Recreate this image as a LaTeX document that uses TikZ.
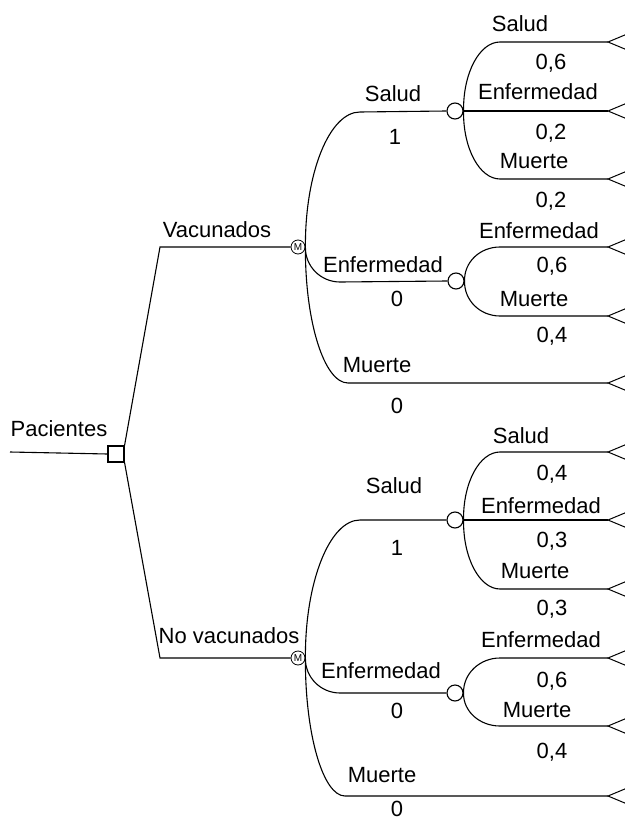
\documentclass[tikz,border=0pt]{standalone}
\usepackage{fontspec}
\setmainfont{Liberation Sans}
\begin{document}
\begin{tikzpicture}[x=1pt,y=-1pt, line width=1.1pt,
  lbl/.style={font=\fontsize{22}{24}\selectfont, inner sep=0pt, anchor=base},
  decision/.style={draw, rectangle, minimum size=16pt, inner sep=0pt},
  chance/.style={draw, circle, minimum size=16pt, inner sep=0pt},
  markov/.style={draw, circle, minimum size=14pt, inner sep=0pt, line width=0.8pt, font=\fontsize{10}{10}\selectfont},
  branch/.style={line width=1.1pt}]
\useasboundingbox (0,0) rectangle (624,821);

% nodes
\node[decision] (d) at (116,454) {};
\node[markov] (m1) at (298,247) {M};
\node[markov] (m2) at (298,658) {M};
\node[chance] (c1) at (455,111) {};
\node[chance] (c2) at (456,281) {};
\node[chance] (c3) at (455,520) {};
\node[chance] (c4) at (455,693) {};
\coordinate (in) at (10,452);
\coordinate (k1) at (160,247);
\coordinate (k2) at (160,658);

% terminals
\foreach \n/\yy in {t1/42,t2/111,t3/179,t4/247,t5/316,t6/383,t7/452,t8/520,t9/589,t10/658,t11/726,t12/796}{
  \coordinate (\n) at (608,\yy);
  \draw[line join=miter, line width=1pt] (\n) -- ++(18,-7.5) -- ++(0,15) -- cycle;
}

% root
\draw[branch] (in) -- (d.west);
\draw[branch] (d.north east) -- (k1) -- (m1.west);
\draw[branch] (d.south east) -- (k2) -- (m2.west);

% Markov 1 branches
\draw[branch] (m1.east) .. controls (305,172.5) and (329.6,112) .. (360,112) -- (c1.west);
\draw[branch] (m1.east) .. controls (305,266.3) and (320.7,282) .. (340,282) -- (c2.west);
\draw[branch] (m1.east) .. controls (305,322) and (324.3,383) .. (348,383) -- (t6);

% Markov 2 branches
\draw[branch] (m2.east) .. controls (305,582) and (329.6,520) .. (360,520) -- (c3.west);
\draw[branch] (m2.east) .. controls (305,677.3) and (320.7,693) .. (340,693) -- (c4.west);
\draw[branch] (m2.east) .. controls (305,734) and (323,796) .. (345,796) -- (t12);

% chance 1
\draw[branch] (c1.east) .. controls (463,72.9) and (479.6,42) .. (500,42) -- (t1);
\draw[branch] (c1.east) -- (t2);
\draw[branch] (c1.east) .. controls (463,148.5) and (479.6,179) .. (500,179) -- (t3);
% chance 2
\draw[branch] (c2.east) .. controls (464,262) and (480,247) .. (500,247) -- (t4);
\draw[branch] (c2.east) .. controls (464,300.3) and (480,316) .. (500,316) -- (t5);
% chance 3
\draw[branch] (c3.east) .. controls (463,482.5) and (479.6,452) .. (500,452) -- (t7);
\draw[branch] (c3.east) -- (t8);
\draw[branch] (c3.east) .. controls (463,558) and (479.6,589) .. (500,589) -- (t9);
% chance 4
\draw[branch] (c4.east) .. controls (463,673.7) and (479.6,658) .. (500,658) -- (t10);
\draw[branch] (c4.east) .. controls (463,711.2) and (479.6,726) .. (500,726) -- (t11);

% labels
\node[lbl] (lp) at (59,436) {Pacientes};
\node[lbl] (lv) at (217,237) {Vacunados};
\node[lbl] (lnv) at (229,643) {No vacunados};

\node[lbl] (l1) at (393,102) {Salud};
\node[lbl] (p1) at (395,145) {1};
\node[lbl] (l2) at (383,272) {Enfermedad};
\node[lbl] (p2) at (397,306) {0};
\node[lbl] (l3) at (377,372) {Muerte};
\node[lbl] (p3) at (397,413) {0};

\node[lbl] (l4) at (394,493) {Salud};
\node[lbl] (p4) at (397,555) {1};
\node[lbl] (l5) at (381,678) {Enfermedad};
\node[lbl] (p5) at (397,718) {0};
\node[lbl] (l6) at (382,782) {Muerte};
\node[lbl] (p6) at (397,816) {0};

\node[lbl] (a1) at (520,32) {Salud};
\node[lbl] (q1) at (551,70) {0,6};
\node[lbl] (a2) at (538,100) {Enfermedad};
\node[lbl] (q2) at (551,140) {0,2};
\node[lbl] (a3) at (534,168) {Muerte};
\node[lbl] (q3) at (551,207) {0,2};

\node[lbl] (a4) at (539,238) {Enfermedad};
\node[lbl] (q4) at (552,272) {0,6};
\node[lbl] (a5) at (534,306) {Muerte};
\node[lbl] (q5) at (552,342) {0,4};

\node[lbl] (a6) at (521,443) {Salud};
\node[lbl] (q6) at (552,480) {0,4};
\node[lbl] (a7) at (541,513) {Enfermedad};
\node[lbl] (q7) at (552,547) {0,3};
\node[lbl] (a8) at (535,578) {Muerte};
\node[lbl] (q8) at (552,615) {0,3};

\node[lbl] (a9) at (541,647) {Enfermedad};
\node[lbl] (q9) at (552,687) {0,6};
\node[lbl] (a10) at (537,717) {Muerte};
\node[lbl] (q10) at (552,758) {0,4};
\end{tikzpicture}
\end{document}
